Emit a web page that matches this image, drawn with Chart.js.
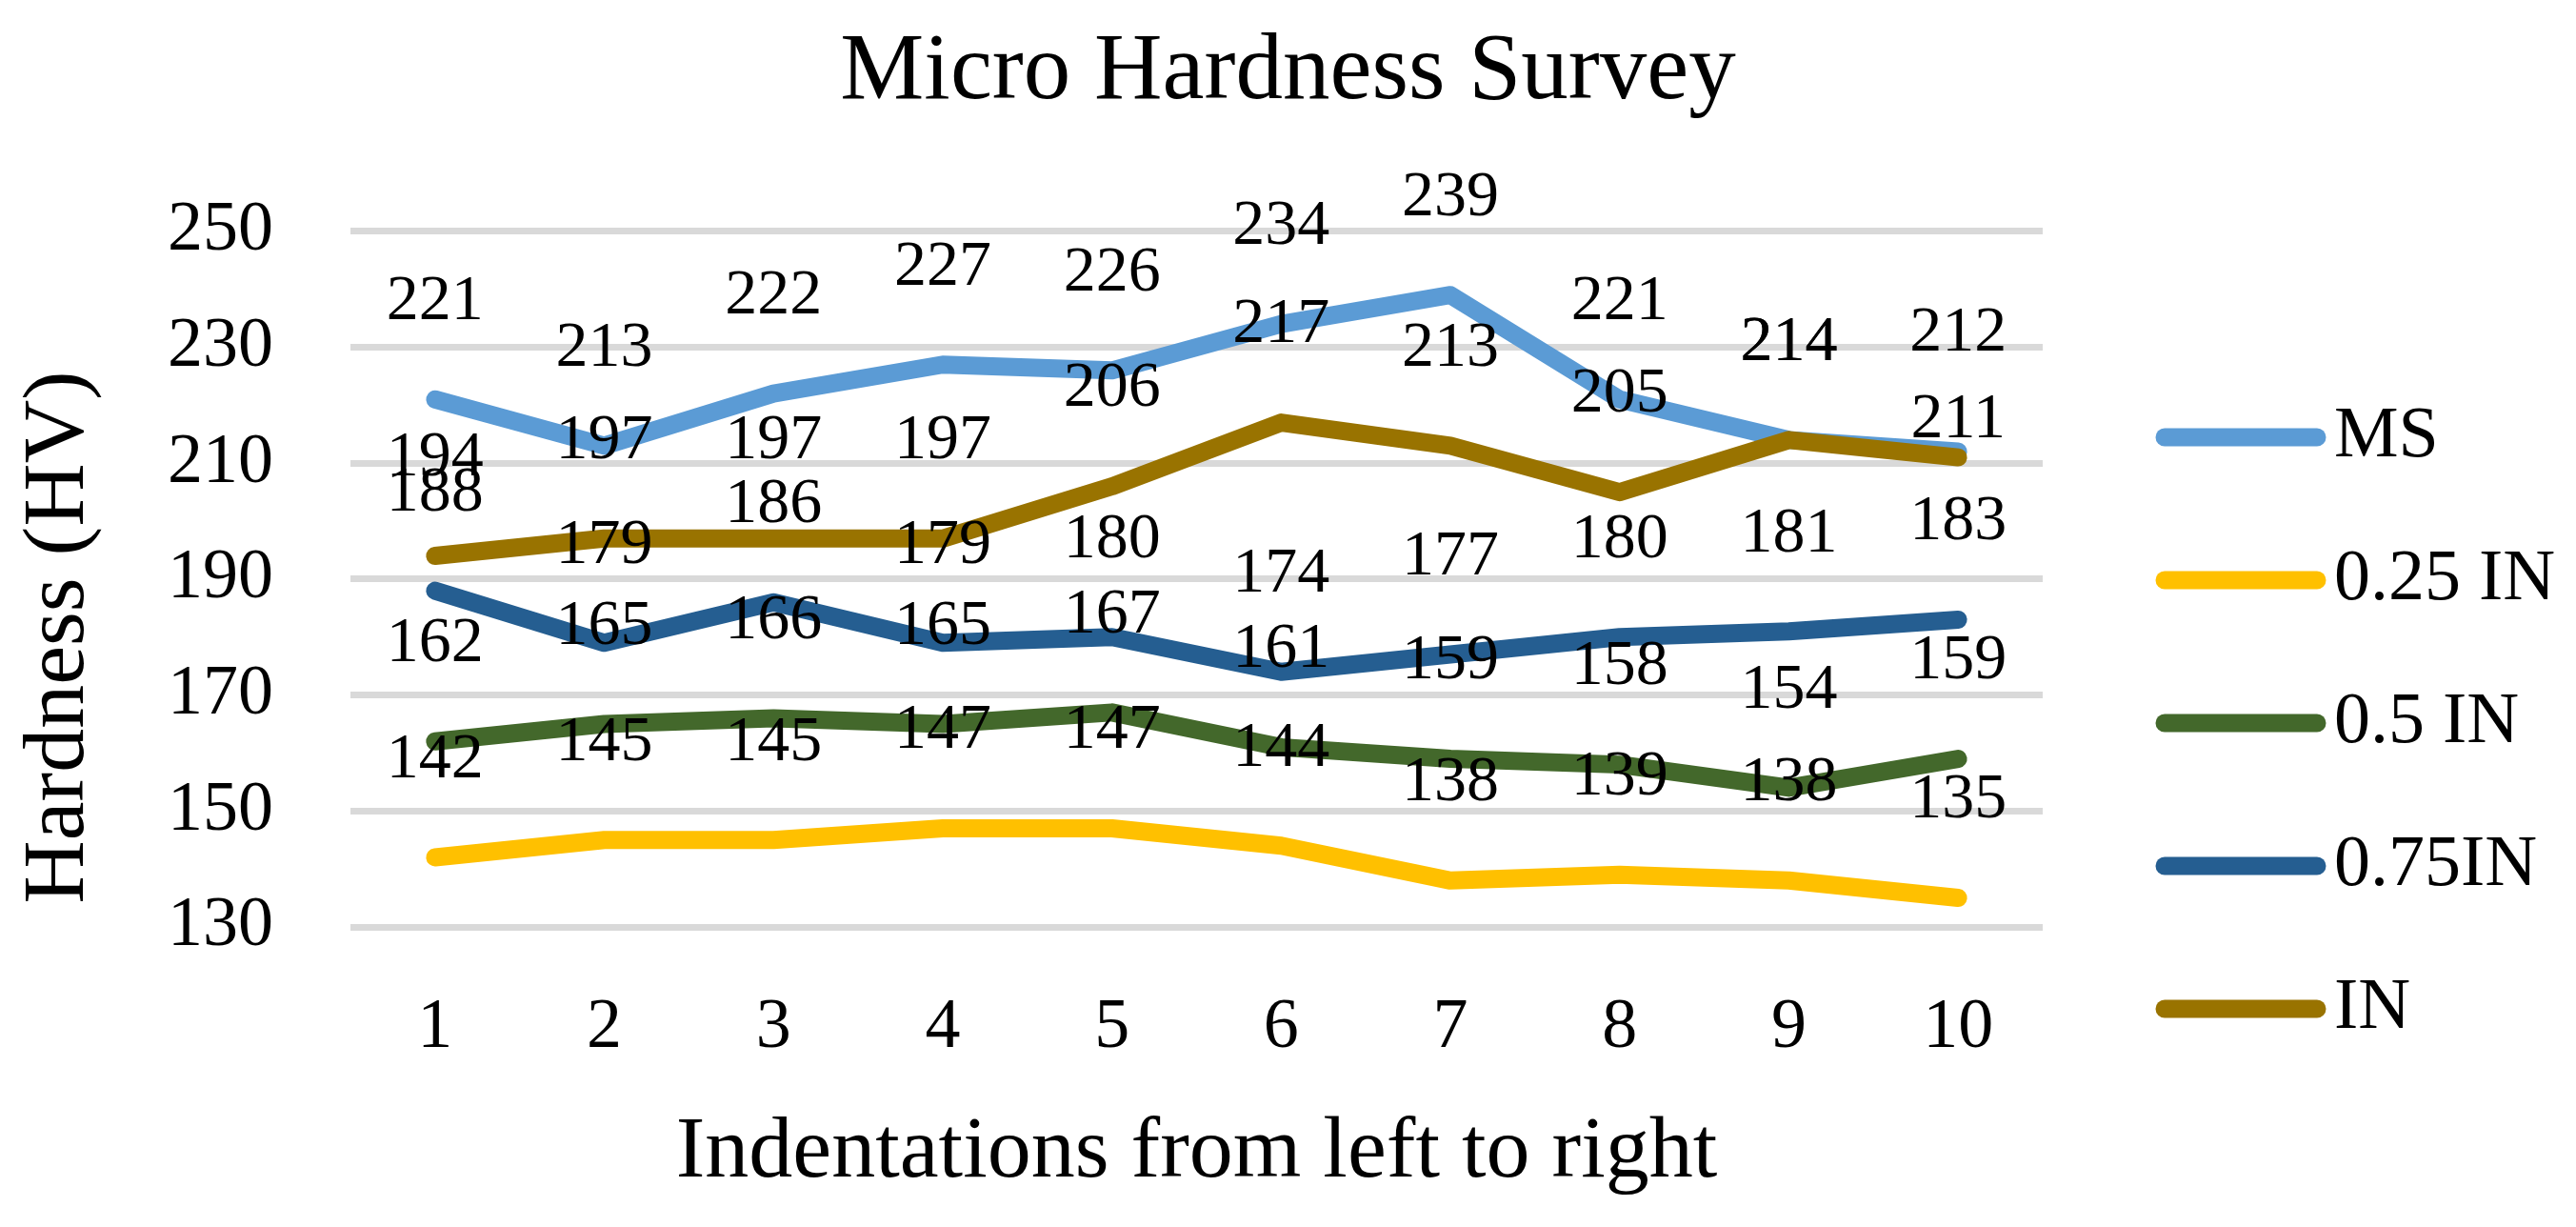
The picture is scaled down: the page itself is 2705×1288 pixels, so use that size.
<!DOCTYPE html>
<html>
<head>
  <meta charset="utf-8">
  <title>Micro Hardness Survey</title>
  <script src="https://cdn.jsdelivr.net/npm/chart.js@4.4.0/dist/chart.umd.min.js"></script>
  <style>
    html, body {
      margin: 0;
      padding: 0;
      background: #ffffff;
    }

    #wrap {
      width: 2705px;
      height: 1288px;
      position: relative;
    }
  </style>
</head>
<body>
  <div id="wrap"><canvas id="myChart"></canvas></div>
  <script>
    // Datos
    var indentaciones = ['1', '2', '3', '4', '5', '6', '7', '8', '9', '10'];
    var durezaMS = [221, 213, 222, 227, 226, 234, 239, 221, 214, 212];
    var dureza025 = [142, 145, 145, 147, 147, 144, 138, 139, 138, 135];
    var dureza05 = [162, 165, 166, 165, 167, 161, 159, 158, 154, 159];
    var dureza075 = [188, 179, 186, 179, 180, 174, 177, 180, 181, 183];
    var durezaIN = [194, 197, 197, 197, 206, 217, 213, 205, 214, 211];
    var ticksY = [130, 150, 170, 190, 210, 230, 250];

    var nombres = ['MS', '0.25 IN', '0.5 IN', '0.75IN', 'IN'];
    var colores = ['#5B9BD5', '#FFC000', '#43682B', '#255E91', '#997300'];
    var series = [durezaMS, dureza025, dureza05, dureza075, durezaIN];

    var FONT = "'Liberation Serif', 'Times New Roman', serif";

    // Separacion normal de la etiqueta sobre el punto, y las dos que se movieron a mano
    var SEPARACION = 102;
    var separacionEspecial = { '0:9': 124, '4:9': 39 };

    // Etiquetas de datos encima de cada punto
    var etiquetasPlugin = {
      id: 'etiquetas',
      afterDatasetsDraw: function(chart) {
        var ctx = chart.ctx;
        ctx.save();
        ctx.font = '68px ' + FONT;
        ctx.fillStyle = '#000000';
        ctx.textAlign = 'center';
        ctx.textBaseline = 'middle';
        chart.data.datasets.forEach(function(ds, i) {
          var meta = chart.getDatasetMeta(i);
          meta.data.forEach(function(pt, j) {
            var sep = separacionEspecial[i + ':' + j] || SEPARACION;
            ctx.fillText(String(ds.data[j]), pt.x, pt.y - sep);
          });
        });
        ctx.restore();
      }
    };

    // Leyenda a la derecha y titulo del eje Y
    var leyendaPlugin = {
      id: 'leyenda',
      afterDraw: function(chart) {
        var ctx = chart.ctx;
        ctx.save();
        ctx.font = '76px ' + FONT;
        ctx.textAlign = 'left';
        ctx.textBaseline = 'middle';
        ctx.lineCap = 'round';
        ctx.lineWidth = 19;
        chart.data.datasets.forEach(function(ds, i) {
          var y = 459 + i * 150;
          ctx.strokeStyle = ds.borderColor;
          ctx.beginPath();
          ctx.moveTo(2273, y);
          ctx.lineTo(2433, y);
          ctx.stroke();
          ctx.fillStyle = '#000000';
          ctx.fillText(ds.label, 2451, y);
        });

        ctx.translate(63, 669);
        ctx.rotate(-Math.PI / 2);
        ctx.font = '92px ' + FONT;
        ctx.textAlign = 'center';
        ctx.fillText('Hardness (HV)', 0, 0);
        ctx.restore();
      }
    };

    var datasets = [];
    for (var i = 0; i < series.length; i++) {
      datasets.push({
        label: nombres[i],
        data: series[i],
        borderColor: colores[i],
        backgroundColor: colores[i],
        borderWidth: 19,
        borderCapStyle: 'round',
        borderJoinStyle: 'round',
        pointRadius: 0,
        tension: 0,
        fill: false,
        order: series.length - 1 - i
      });
    }

    var ctx = document.getElementById('myChart').getContext('2d');
    var myChart = new Chart(ctx, {
      type: 'line',
      data: {
        labels: indentaciones,
        datasets: datasets
      },
      options: {
        responsive: true,
        maintainAspectRatio: false,
        animation: false,
        layout: { padding: 0 },
        plugins: {
          legend: { display: false },
          tooltip: { enabled: false },
          title: {
            display: true,
            text: 'Micro Hardness Survey',
            color: '#000000',
            font: { family: FONT, size: 99, weight: 'normal' },
            padding: { top: 18, bottom: 106 }
          }
        },
        scales: {
          x: {
            offset: true,
            grid: { display: false, drawTicks: false },
            border: { display: false },
            ticks: {
              color: '#000000',
              font: { family: FONT, size: 74 },
              padding: 62,
              maxRotation: 0
            },
            title: {
              display: true,
              text: 'Indentations from left to right',
              color: '#000000',
              font: { family: FONT, size: 92 },
              padding: { top: 0, bottom: 22 }
            },
            afterFit: function(scale) { scale.height = 315; }
          },
          y: {
            min: ticksY[0],
            max: ticksY[ticksY.length - 1],
            ticks: {
              stepSize: ticksY[1] - ticksY[0],
              color: '#000000',
              font: { family: FONT, size: 74 },
              padding: 81
            },
            grid: { color: '#D9D9D9', lineWidth: 7, drawTicks: false },
            border: { display: false },
            afterFit: function(scale) { scale.width = 368; }
          },
          espacio: {
            type: 'linear',
            position: 'right',
            display: true,
            grid: { display: false, drawTicks: false },
            border: { display: false },
            ticks: { display: false },
            afterFit: function(scale) { scale.width = 560; }
          }
        }
      },
      plugins: [etiquetasPlugin, leyendaPlugin]
    });
  </script>
</body>
</html>
